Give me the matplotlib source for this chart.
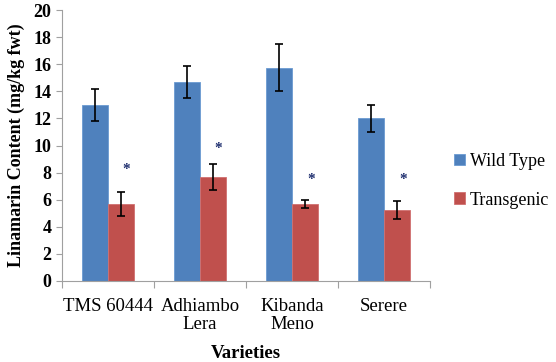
import matplotlib
matplotlib.use("Agg")
import matplotlib.pyplot as plt
import numpy as np

varieties = ["TMS 60444", "Adhiambo\nLera", "Kibanda\nMeno", "Serere"]
wild = [13.0, 14.7, 15.75, 12.0]
wild_err = [1.2, 1.2, 1.75, 1.0]
transgenic = [5.7, 7.65, 5.7, 5.25]
transgenic_err = [0.9, 0.95, 0.3, 0.65]
star_y = [8.2, 9.8, 7.5, 7.5]

plt.rcParams["font.family"] = ["Liberation Serif", "DejaVu Serif"]

fig = plt.figure(figsize=(5.56, 3.62), dpi=100)
ax = fig.add_axes([0.1115, 0.224, 0.662, 0.748])

x = np.arange(len(varieties))
w = 0.285
err_kw = dict(ecolor="black", elinewidth=1.2, capsize=3, capthick=1.2)
ax.bar(x - w / 2, wild, w, yerr=wild_err, color="#4f81bd", edgecolor="#6b9bd2",
       linewidth=0.6, label="Wild Type", error_kw=err_kw)
ax.bar(x + w / 2, transgenic, w, yerr=transgenic_err, color="#c0504d", edgecolor="#d07070",
       linewidth=0.6, label="Transgenic", error_kw=err_kw)
for xi, sy in zip(x, star_y):
    ax.text(xi + w / 2 + 0.06, sy, "*", ha="center", va="center", fontsize=11,
            color="#1f2f6f", fontweight="bold")

ax.set_xlim(-0.5, len(varieties) - 0.5)
ax.set_ylim(0, 20)
ax.set_yticks(np.arange(0, 21, 2))
ax.set_xticks(np.arange(-0.5, len(varieties), 1.0))
ax.set_xticklabels([])
ax.set_xticks(x, minor=True)
ax.set_xticklabels(varieties, minor=True, fontsize=13.5, linespacing=1.1)
ax.tick_params(axis="x", which="minor", length=0, pad=12)
ax.tick_params(axis="x", which="major", length=5, color="#a0a0a0", direction="out")
ax.tick_params(axis="y", length=4, color="#a0a0a0", labelsize=13)
for lbl in ax.get_yticklabels():
    lbl.set_fontweight("bold")

for s in ["top", "right"]:
    ax.spines[s].set_visible(False)
for s in ["left", "bottom"]:
    ax.spines[s].set_color("#a0a0a0")

ax.set_ylabel("Linamarin Content (mg/kg fwt)", fontsize=13, fontweight="bold", labelpad=6)
ax.set_xlabel("Varieties", fontsize=13.5, fontweight="bold", labelpad=9)

ax.legend(loc="center left", bbox_to_anchor=(1.02, 0.37), frameon=False,
          prop={"family": ["Liberation Serif"], "size": 13},
          handlelength=0.6, handleheight=0.6, handletextpad=0.3, labelspacing=1.2)

fig.savefig("out.png", dpi=100)
